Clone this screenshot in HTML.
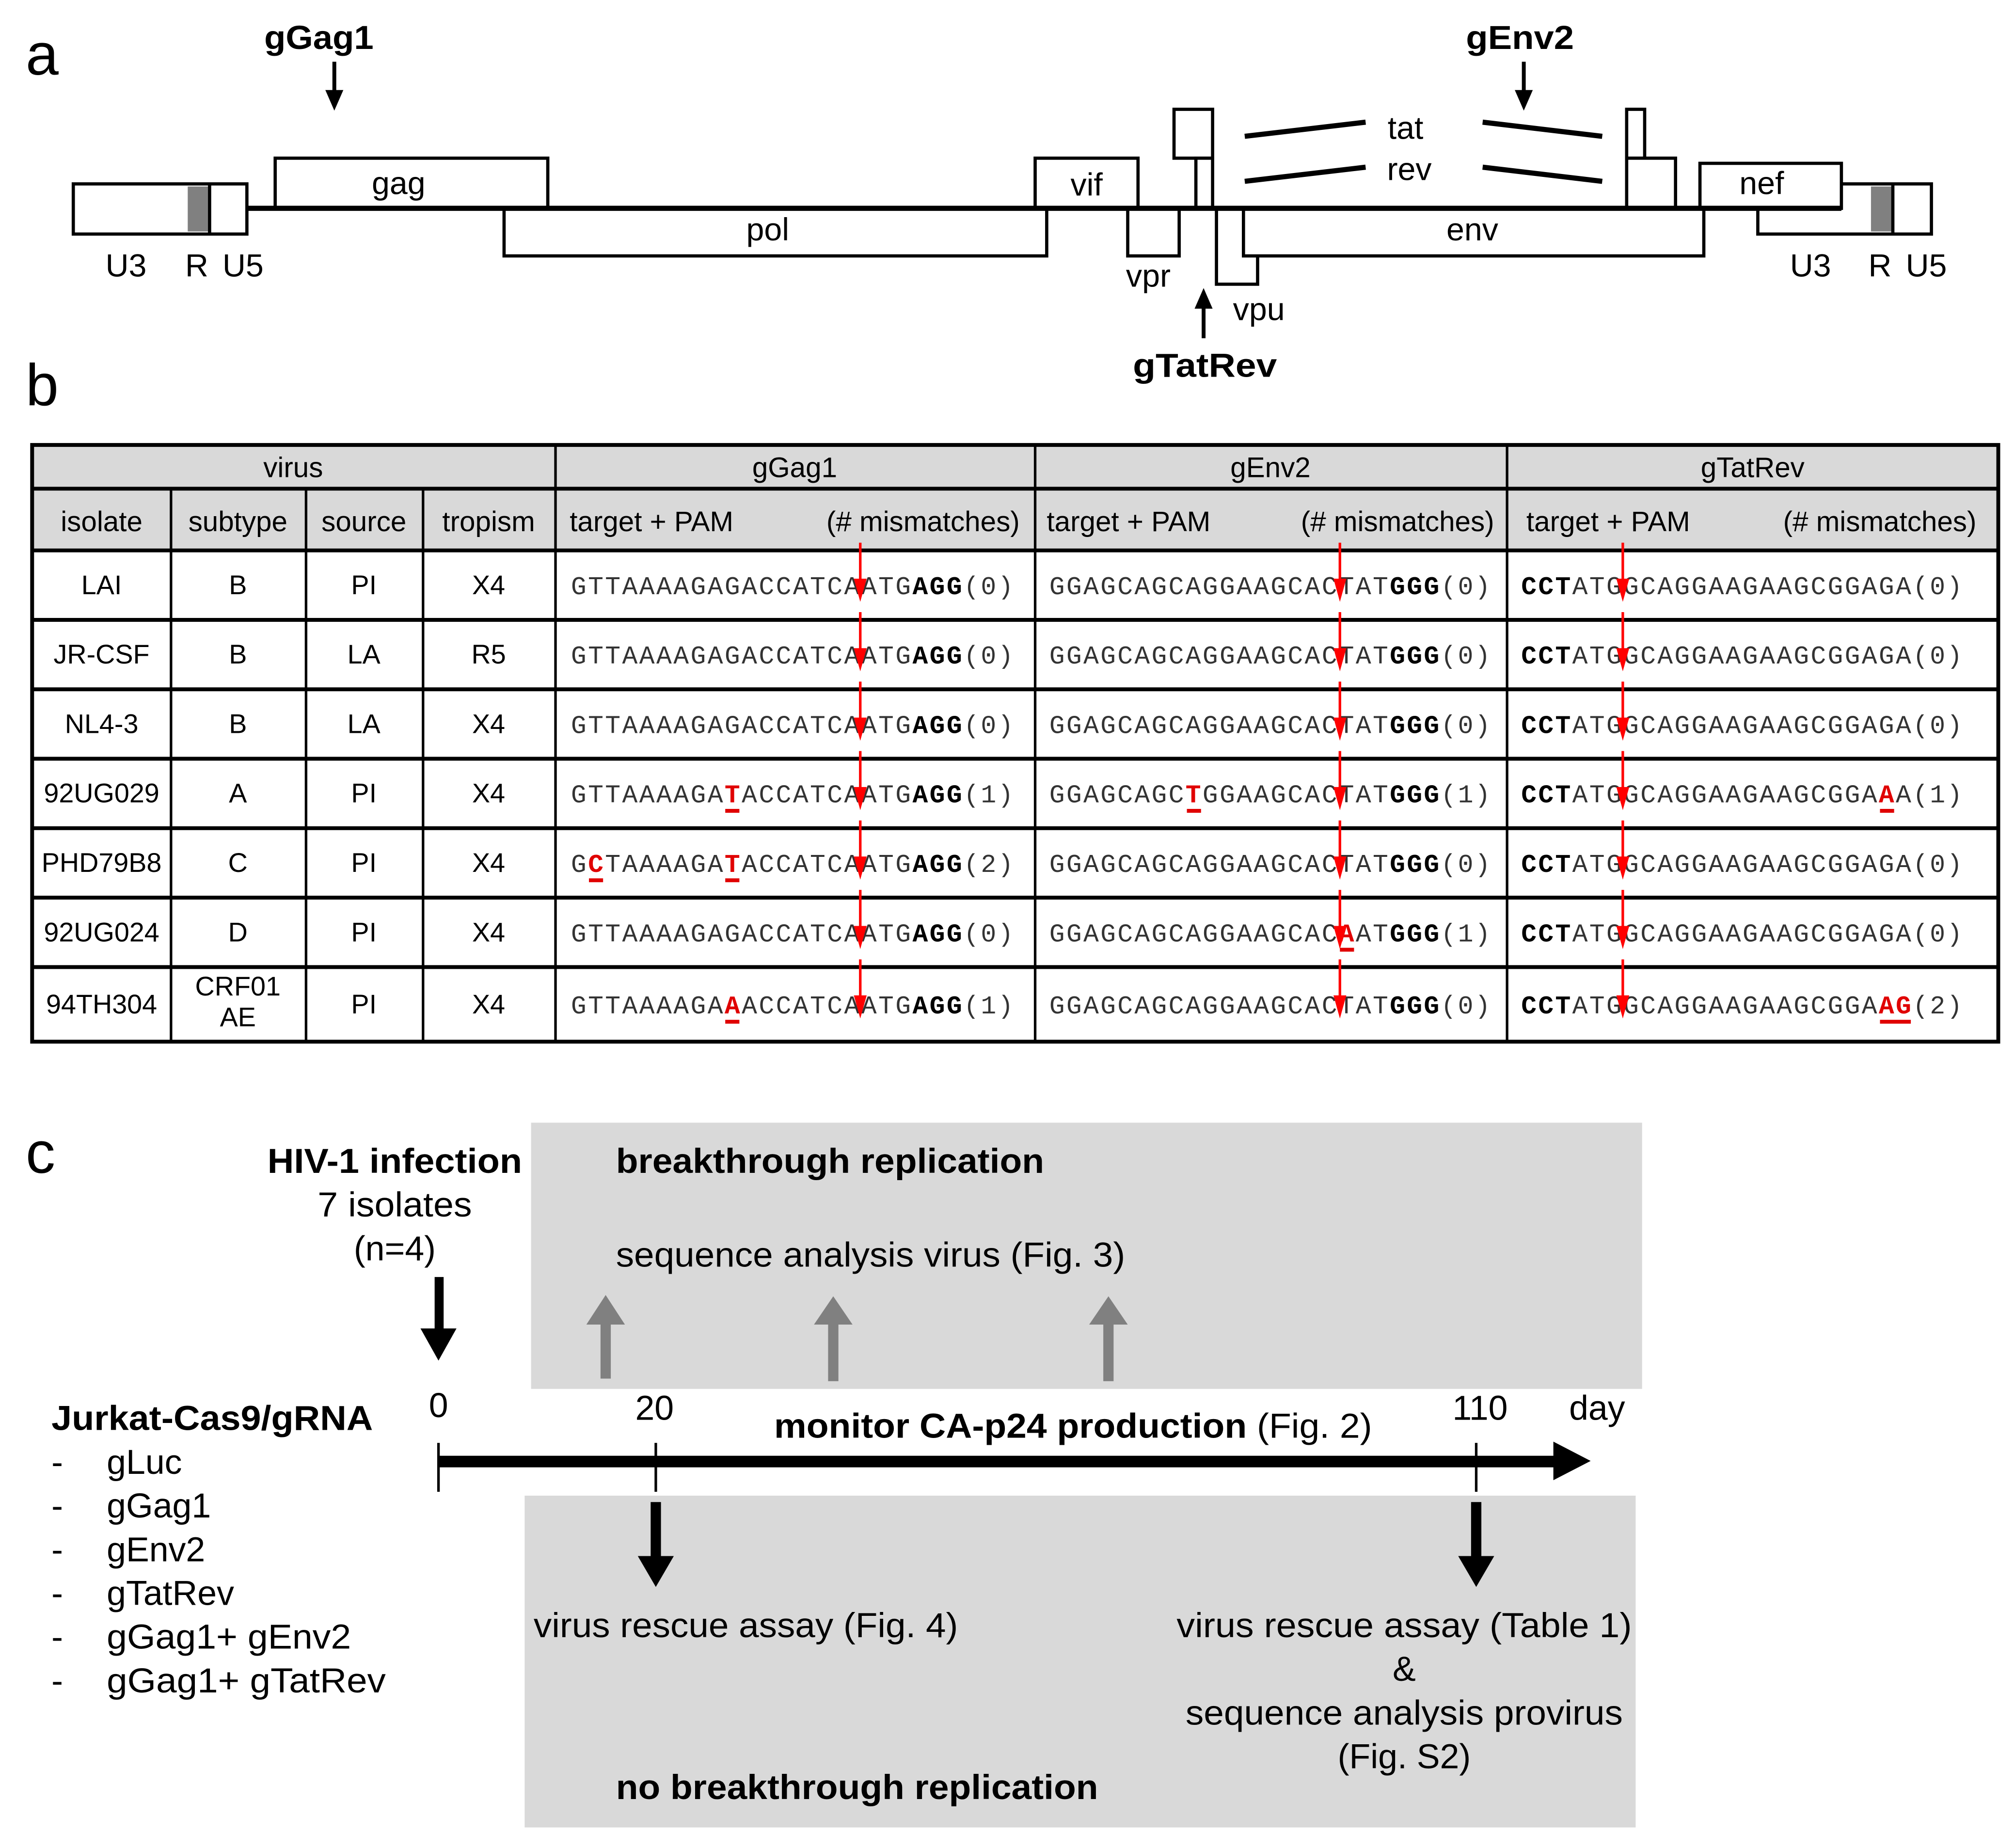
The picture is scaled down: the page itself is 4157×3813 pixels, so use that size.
<!DOCTYPE html>
<html><head><meta charset="utf-8"><style>
html,body{margin:0;padding:0;background:#fff;}
svg{display:block;}
text{font-family:"Liberation Sans",Arial,sans-serif;}
.m text{font-family:"Liberation Mono","DejaVu Sans Mono",monospace;font-size:20px;fill:#333;}
.b{font-weight:bold;fill:#000;}
.r{font-weight:bold;fill:#e00000;}
.t{font-size:21px;text-anchor:middle;}
</style></head><body>
<svg width="4157" height="3813" viewBox="0 0 1567 1437" preserveAspectRatio="none" xmlns="http://www.w3.org/2000/svg">
<rect width="1567" height="1437" fill="#fff"/>
<!-- Panel a -->
<text x="20" y="58" font-size="46">a</text>
<text x="248" y="38" font-size="26" font-weight="bold" text-anchor="middle" textLength="85" lengthAdjust="spacingAndGlyphs">gGag1</text>
<line x1="260" y1="48" x2="260" y2="72" stroke="#000" stroke-width="3"/>
<polygon points="253,70 267,70 260,86" fill="#000"/>
<text x="1182" y="38" font-size="26" font-weight="bold" text-anchor="middle" textLength="84" lengthAdjust="spacingAndGlyphs">gEnv2</text>
<line x1="1185" y1="48" x2="1185" y2="72" stroke="#000" stroke-width="3"/>
<polygon points="1178,70 1192,70 1185,86" fill="#000"/>
<g fill="#fff" stroke="#000" stroke-width="2.5">
<rect x="1367" y="143" width="135" height="39"/>
<rect x="1455" y="145" width="17" height="35" fill="#808080" stroke="none"/>
<line x1="1472" y1="143" x2="1472" y2="182"/>
<rect x="57" y="143" width="135" height="39"/>
<rect x="146" y="145" width="17" height="35" fill="#808080" stroke="none"/>
<line x1="163" y1="143" x2="163" y2="182"/>
<rect x="214" y="123" width="212" height="39"/>
<rect x="392" y="162" width="422" height="37"/>
<rect x="805" y="123" width="80" height="39"/>
<rect x="877" y="162" width="40" height="37"/>
<rect x="913" y="85" width="30" height="38"/>
<rect x="930" y="123" width="13" height="39"/>
<rect x="946" y="162" width="32" height="59"/>
<rect x="967" y="162" width="358" height="37"/>
<rect x="1265" y="85" width="14" height="38"/>
<rect x="1265" y="123" width="38" height="39"/>
<rect x="1322" y="127" width="110" height="35"/>
</g>
<line x1="192" y1="162" x2="1432" y2="162" stroke="#000" stroke-width="4"/>
<g stroke="#000" stroke-width="4">
<line x1="968" y1="106" x2="1062" y2="95"/><line x1="1153" y1="95" x2="1246" y2="106"/>
<line x1="968" y1="141" x2="1062" y2="130"/><line x1="1153" y1="130" x2="1246" y2="141"/>
</g>
<g font-size="25" text-anchor="middle">
<text x="310" y="151">gag</text><text x="597" y="187">pol</text><text x="845" y="152">vif</text>
<text x="1145" y="187">env</text><text x="1370" y="151">nef</text>
<text x="1093" y="108">tat</text><text x="1096" y="140">rev</text>
<text x="893" y="223">vpr</text><text x="979" y="249">vpu</text>
<text x="98" y="215">U3</text><text x="153" y="215">R</text><text x="189" y="215">U5</text>
<text x="1408" y="215">U3</text><text x="1462" y="215">R</text><text x="1498" y="215">U5</text>
</g>
<line x1="936" y1="263" x2="936" y2="238" stroke="#000" stroke-width="3"/>
<polygon points="929,240 943,240 936,224" fill="#000"/>
<text x="937" y="293" font-size="26" font-weight="bold" text-anchor="middle" textLength="112" lengthAdjust="spacingAndGlyphs">gTatRev</text>
<!-- Panel b -->
<text x="20" y="315" font-size="46">b</text>
<rect x="25" y="346" width="1529" height="82" fill="#d9d9d9"/>
<g stroke="#000" stroke-width="3" fill="none">
<rect x="25" y="346" width="1529" height="464"/>
<line x1="25" y1="380" x2="1554" y2="380"/>
<line x1="25" y1="428" x2="1554" y2="428"/>
<line x1="25" y1="482" x2="1554" y2="482"/>
<line x1="25" y1="536" x2="1554" y2="536"/>
<line x1="25" y1="590" x2="1554" y2="590"/>
<line x1="25" y1="644" x2="1554" y2="644"/>
<line x1="25" y1="698" x2="1554" y2="698"/>
<line x1="25" y1="752" x2="1554" y2="752"/>
<line x1="133" y1="380" x2="133" y2="810" stroke-width="2"/>
<line x1="238" y1="380" x2="238" y2="810" stroke-width="2"/>
<line x1="329" y1="380" x2="329" y2="810" stroke-width="2"/>
<line x1="432" y1="346" x2="432" y2="810" stroke-width="2"/>
<line x1="805" y1="346" x2="805" y2="810" stroke-width="2"/>
<line x1="1172" y1="346" x2="1172" y2="810" stroke-width="2"/>
</g>
<g font-size="22" text-anchor="middle">
<text x="228" y="371">virus</text><text x="618" y="371">gGag1</text><text x="988" y="371">gEnv2</text><text x="1363" y="371">gTatRev</text>
<text x="79" y="413">isolate</text><text x="185" y="413">subtype</text><text x="283" y="413">source</text><text x="380" y="413">tropism</text>
</g>
<g font-size="22">
<text x="443" y="413">target + PAM</text><text x="793" y="413" text-anchor="end">(# mismatches)</text>
<text x="814" y="413">target + PAM</text><text x="1162" y="413" text-anchor="end">(# mismatches)</text>
<text x="1187" y="413">target + PAM</text><text x="1537" y="413" text-anchor="end">(# mismatches)</text>
</g>
<g class="t">
<text x="79" y="462">LAI</text><text x="185" y="462">B</text><text x="283" y="462">PI</text><text x="380" y="462">X4</text>
<text x="79" y="516">JR-CSF</text><text x="185" y="516">B</text><text x="283" y="516">LA</text><text x="380" y="516">R5</text>
<text x="79" y="570">NL4-3</text><text x="185" y="570">B</text><text x="283" y="570">LA</text><text x="380" y="570">X4</text>
<text x="79" y="624">92UG029</text><text x="185" y="624">A</text><text x="283" y="624">PI</text><text x="380" y="624">X4</text>
<text x="79" y="678">PHD79B8</text><text x="185" y="678">C</text><text x="283" y="678">PI</text><text x="380" y="678">X4</text>
<text x="79" y="732">92UG024</text><text x="185" y="732">D</text><text x="283" y="732">PI</text><text x="380" y="732">X4</text>
<text x="79" y="788">94TH304</text><text x="185" y="774">CRF01</text><text x="185" y="798">AE</text><text x="283" y="788">PI</text><text x="380" y="788">X4</text>
</g>
<g class="m">
<text x="444" y="462" textLength="344" lengthAdjust="spacing">GTTAAAAGAGACCATCAATG<tspan class="b">AGG</tspan>(0)</text>
<text x="444" y="516" textLength="344" lengthAdjust="spacing">GTTAAAAGAGACCATCAATG<tspan class="b">AGG</tspan>(0)</text>
<text x="444" y="570" textLength="344" lengthAdjust="spacing">GTTAAAAGAGACCATCAATG<tspan class="b">AGG</tspan>(0)</text>
<text x="444" y="624" textLength="344" lengthAdjust="spacing">GTTAAAAGA<tspan class="r">T</tspan>ACCATCAATG<tspan class="b">AGG</tspan>(1)</text>
<text x="444" y="678" textLength="344" lengthAdjust="spacing">G<tspan class="r">C</tspan>TAAAAGA<tspan class="r">T</tspan>ACCATCAATG<tspan class="b">AGG</tspan>(2)</text>
<text x="444" y="732" textLength="344" lengthAdjust="spacing">GTTAAAAGAGACCATCAATG<tspan class="b">AGG</tspan>(0)</text>
<text x="444" y="788" textLength="344" lengthAdjust="spacing">GTTAAAAGA<tspan class="r">A</tspan>ACCATCAATG<tspan class="b">AGG</tspan>(1)</text>
<text x="816" y="462" textLength="343" lengthAdjust="spacing">GGAGCAGCAGGAAGCACTAT<tspan class="b">GGG</tspan>(0)</text>
<text x="816" y="516" textLength="343" lengthAdjust="spacing">GGAGCAGCAGGAAGCACTAT<tspan class="b">GGG</tspan>(0)</text>
<text x="816" y="570" textLength="343" lengthAdjust="spacing">GGAGCAGCAGGAAGCACTAT<tspan class="b">GGG</tspan>(0)</text>
<text x="816" y="624" textLength="343" lengthAdjust="spacing">GGAGCAGC<tspan class="r">T</tspan>GGAAGCACTAT<tspan class="b">GGG</tspan>(1)</text>
<text x="816" y="678" textLength="343" lengthAdjust="spacing">GGAGCAGCAGGAAGCACTAT<tspan class="b">GGG</tspan>(0)</text>
<text x="816" y="732" textLength="343" lengthAdjust="spacing">GGAGCAGCAGGAAGCAC<tspan class="r">A</tspan>AT<tspan class="b">GGG</tspan>(1)</text>
<text x="816" y="788" textLength="343" lengthAdjust="spacing">GGAGCAGCAGGAAGCACTAT<tspan class="b">GGG</tspan>(0)</text>
<text x="1183" y="462" textLength="343" lengthAdjust="spacing"><tspan class="b">CCT</tspan>ATGGCAGGAAGAAGCGGAGA(0)</text>
<text x="1183" y="516" textLength="343" lengthAdjust="spacing"><tspan class="b">CCT</tspan>ATGGCAGGAAGAAGCGGAGA(0)</text>
<text x="1183" y="570" textLength="343" lengthAdjust="spacing"><tspan class="b">CCT</tspan>ATGGCAGGAAGAAGCGGAGA(0)</text>
<text x="1183" y="624" textLength="343" lengthAdjust="spacing"><tspan class="b">CCT</tspan>ATGGCAGGAAGAAGCGGA<tspan class="r">A</tspan>A(1)</text>
<text x="1183" y="678" textLength="343" lengthAdjust="spacing"><tspan class="b">CCT</tspan>ATGGCAGGAAGAAGCGGAGA(0)</text>
<text x="1183" y="732" textLength="343" lengthAdjust="spacing"><tspan class="b">CCT</tspan>ATGGCAGGAAGAAGCGGAGA(0)</text>
<text x="1183" y="788" textLength="343" lengthAdjust="spacing"><tspan class="b">CCT</tspan>ATGGCAGGAAGAAGCGGA<tspan class="r">AG</tspan>(2)</text>
</g>
<g fill="#e00000">
<rect x="564" y="629" width="11" height="3"/>
<rect x="458" y="683" width="11" height="3"/><rect x="564" y="683" width="11" height="3"/>
<rect x="564" y="793" width="11" height="3"/>
<rect x="923" y="629" width="11" height="3"/>
<rect x="1042" y="737" width="11" height="3"/>
<rect x="1462" y="629" width="11" height="3"/>
<rect x="1462" y="793" width="24" height="3"/>
</g>
<g fill="#ff0000" stroke="#ff0000">
<path d="M669 422V452M1042 422V452M1262 422V452M669 476V506M1042 476V506M1262 476V506M669 530V560M1042 530V560M1262 530V560M669 584V614M1042 584V614M1262 584V614M669 638V668M1042 638V668M1262 638V668M669 692V722M1042 692V722M1262 692V722M669 746V776M1042 746V776M1262 746V776" stroke-width="2" fill="none"/>
<g stroke="none">
<polygon points="664,450 674,450 669,468"/><polygon points="1037,450 1047,450 1042,468"/><polygon points="1257,450 1267,450 1262,468"/>
<polygon points="664,504 674,504 669,522"/><polygon points="1037,504 1047,504 1042,522"/><polygon points="1257,504 1267,504 1262,522"/>
<polygon points="664,558 674,558 669,576"/><polygon points="1037,558 1047,558 1042,576"/><polygon points="1257,558 1267,558 1262,576"/>
<polygon points="664,612 674,612 669,630"/><polygon points="1037,612 1047,612 1042,630"/><polygon points="1257,612 1267,612 1262,630"/>
<polygon points="664,666 674,666 669,684"/><polygon points="1037,666 1047,666 1042,684"/><polygon points="1257,666 1267,666 1262,684"/>
<polygon points="664,720 674,720 669,738"/><polygon points="1037,720 1047,720 1042,738"/><polygon points="1257,720 1267,720 1262,738"/>
<polygon points="664,774 674,774 669,792"/><polygon points="1037,774 1047,774 1042,792"/><polygon points="1257,774 1267,774 1262,792"/>
</g></g>
<!-- Panel c -->
<text x="20" y="912" font-size="46">c</text>
<rect x="413" y="873" width="864" height="207" fill="#d9d9d9"/>
<rect x="408" y="1163" width="864" height="258" fill="#d9d9d9"/>
<g font-size="27">
<text x="307" y="912" font-weight="bold" text-anchor="middle" textLength="198" lengthAdjust="spacingAndGlyphs">HIV-1 infection</text>
<text x="307" y="946" text-anchor="middle" textLength="120" lengthAdjust="spacingAndGlyphs">7 isolates</text>
<text x="307" y="980" text-anchor="middle">(n=4)</text>
<text x="479" y="912" font-weight="bold" textLength="333" lengthAdjust="spacingAndGlyphs">breakthrough replication</text>
<text x="479" y="985" textLength="396" lengthAdjust="spacingAndGlyphs">sequence analysis virus (Fig. 3)</text>
<text x="341" y="1102" text-anchor="middle">0</text>
<text x="509" y="1104" text-anchor="middle">20</text>
<text x="1151" y="1104" text-anchor="middle">110</text>
<text x="1242" y="1104" text-anchor="middle">day</text>
<text x="602" y="1118" textLength="465" lengthAdjust="spacingAndGlyphs"><tspan font-weight="bold">monitor CA-p24 production</tspan> (Fig. 2)</text>
<text x="40" y="1112" font-weight="bold" textLength="250" lengthAdjust="spacingAndGlyphs">Jurkat-Cas9/gRNA</text>
<text x="40" y="1146">-</text><text x="83" y="1146">gLuc</text>
<text x="40" y="1180">-</text><text x="83" y="1180">gGag1</text>
<text x="40" y="1214">-</text><text x="83" y="1214">gEnv2</text>
<text x="40" y="1248">-</text><text x="83" y="1248">gTatRev</text>
<text x="40" y="1282">-</text><text x="83" y="1282" textLength="190" lengthAdjust="spacingAndGlyphs">gGag1+ gEnv2</text>
<text x="40" y="1316">-</text><text x="83" y="1316" textLength="217" lengthAdjust="spacingAndGlyphs">gGag1+ gTatRev</text>
<text x="415" y="1273" textLength="330" lengthAdjust="spacingAndGlyphs">virus rescue assay (Fig. 4)</text>
<text x="1092" y="1273" text-anchor="middle" textLength="354" lengthAdjust="spacingAndGlyphs">virus rescue assay (Table 1)</text>
<text x="1092" y="1307" text-anchor="middle">&amp;</text>
<text x="1092" y="1341" text-anchor="middle" textLength="340" lengthAdjust="spacingAndGlyphs">sequence analysis provirus</text>
<text x="1092" y="1375" text-anchor="middle">(Fig. S2)</text>
<text x="479" y="1399" font-weight="bold" textLength="375" lengthAdjust="spacingAndGlyphs">no breakthrough replication</text>
</g>
<rect x="338" y="993" width="7" height="42" fill="#000"/>
<polygon points="327,1033 355,1033 341,1058" fill="#000"/>
<g fill="#808080">
<rect x="467" y="1028" width="8" height="44"/><polygon points="456,1030 486,1030 471,1007"/>
<rect x="644" y="1028" width="8" height="46"/><polygon points="633,1030 663,1030 648,1008"/>
<rect x="858" y="1028" width="8" height="46"/><polygon points="847,1030 877,1030 862,1008"/>
</g>
<rect x="341" y="1132" width="870" height="9" fill="#000"/>
<polygon points="1208,1121 1237,1136 1208,1151" fill="#000"/>
<g stroke="#000" stroke-width="2">
<line x1="341" y1="1122" x2="341" y2="1160"/>
<line x1="510" y1="1122" x2="510" y2="1160"/>
<line x1="1148" y1="1122" x2="1148" y2="1160"/>
</g>
<rect x="506" y="1168" width="8" height="44" fill="#000"/>
<polygon points="496,1210 524,1210 510,1234" fill="#000"/>
<rect x="1144" y="1168" width="8" height="44" fill="#000"/>
<polygon points="1134,1210 1162,1210 1148,1234" fill="#000"/>
</svg>
</body></html>
